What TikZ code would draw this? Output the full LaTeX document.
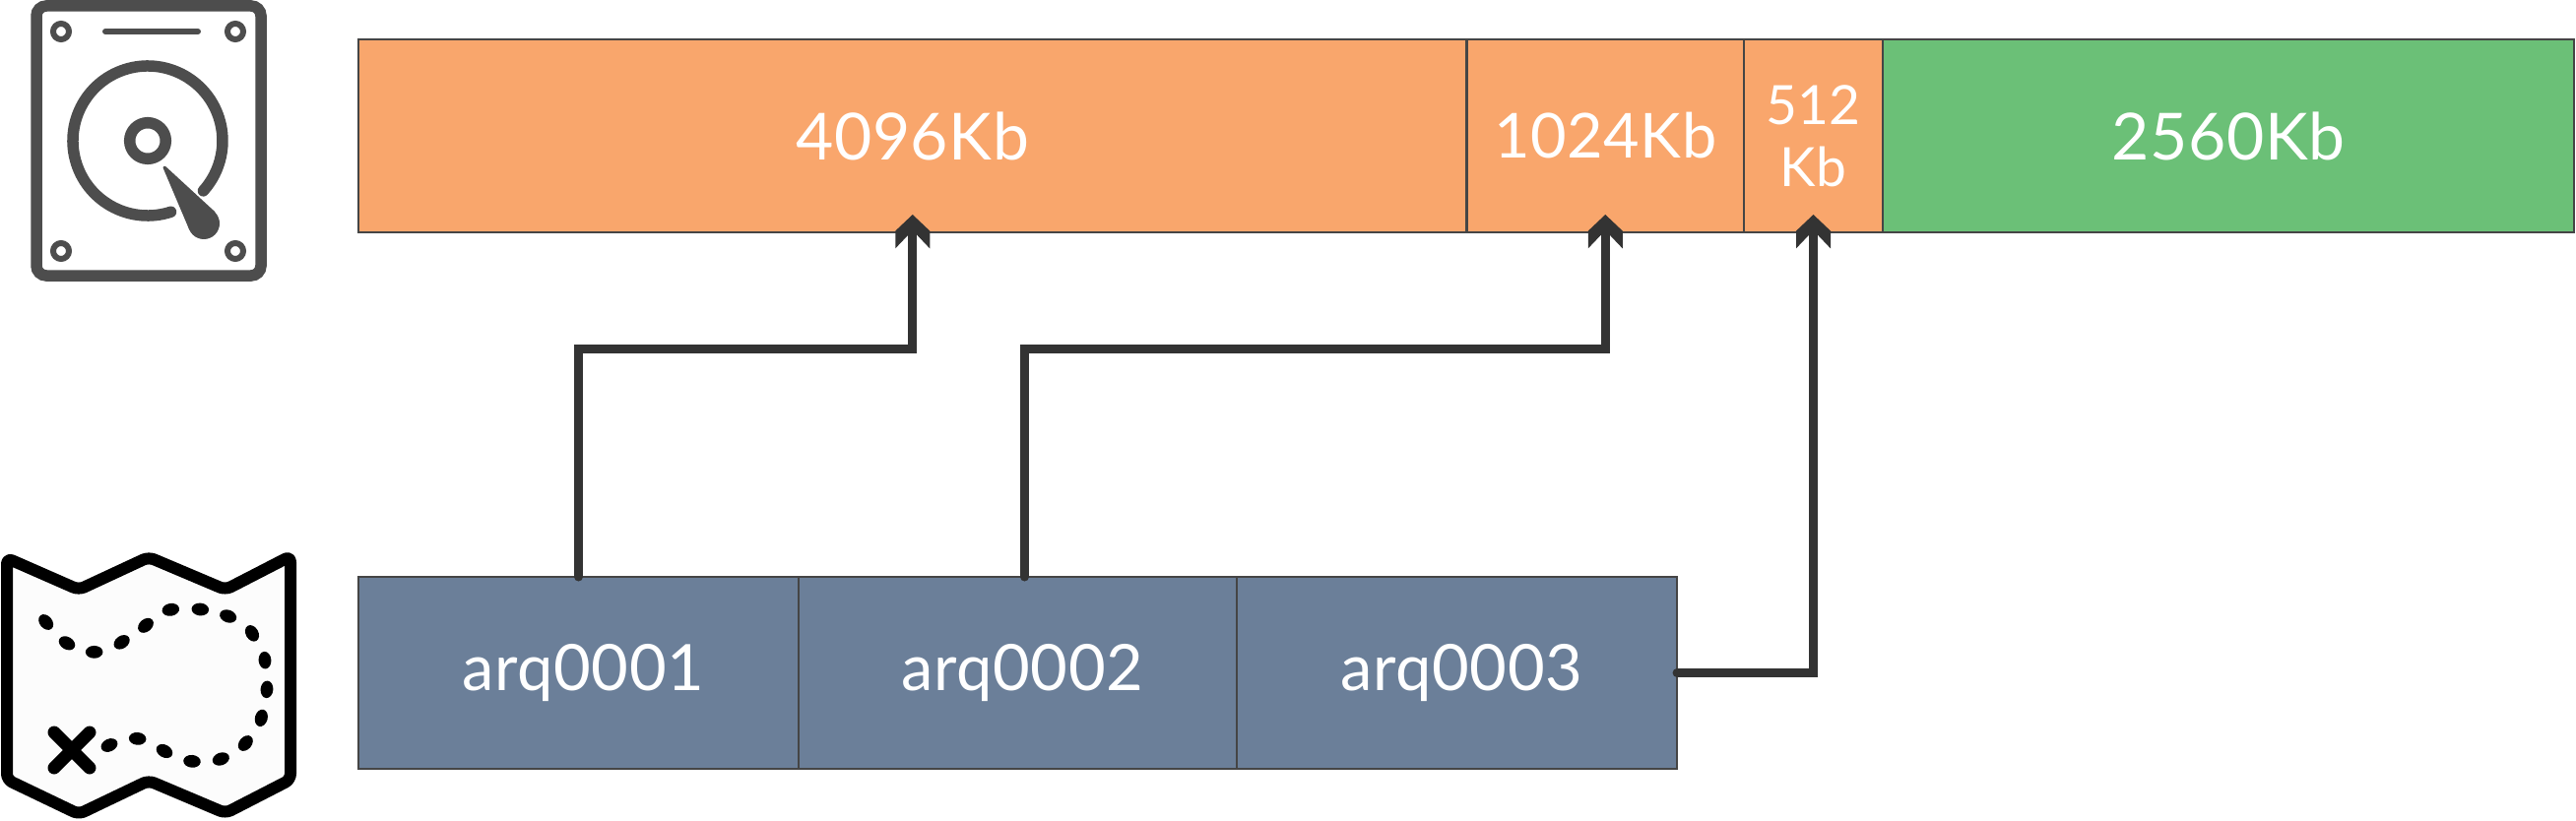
\documentclass[tikz,border=0pt]{standalone}
\usepackage{fontspec}
\setmainfont[LetterSpace=1.0]{Lato}
\usetikzlibrary{arrows.meta}
\definecolor{orangeblk}{HTML}{F9A66C}
\definecolor{greenblk}{HTML}{6BC077}
\definecolor{blueblk}{HTML}{6B7F99}
\definecolor{edgec}{HTML}{454545}
\definecolor{arrowc}{HTML}{333333}
\definecolor{iconc}{HTML}{4D4D4D}
\pgfdeclarearrow{
  name=Chev,
  setup code={
    \pgfarrowssettipend{0pt}
    \pgfarrowssetlineend{-9pt}
    \pgfarrowssetvisualtipend{0pt}
    \pgfarrowssetbackend{-17.2pt}
    \pgfarrowssetvisualbackend{-8pt}
    \pgfarrowshullpoint{0pt}{0pt}
    \pgfarrowshullpoint{-17.2pt}{8.75pt}
    \pgfarrowshullpoint{-17.2pt}{-8.75pt}
  },
  drawing code={
    \pgfsetlinewidth{0pt}
    \pgfpathmoveto{\pgfqpoint{0pt}{0pt}}
    \pgfpathlineto{\pgfqpoint{-8.3pt}{8.75pt}}
    \pgfpathlineto{\pgfqpoint{-17.2pt}{8.75pt}}
    \pgfpathlineto{\pgfqpoint{-8pt}{0pt}}
    \pgfpathlineto{\pgfqpoint{-17.2pt}{-8.75pt}}
    \pgfpathlineto{\pgfqpoint{-8.3pt}{-8.75pt}}
    \pgfpathclose
    \pgfusepathqfill
  }
}
\tikzset{
  blk/.style={draw=edgec,line width=1.25pt,outer sep=0pt,inner sep=0pt,text=white,
    font=\fontsize{33}{33}\selectfont,align=center,anchor=north west},
  disk/.style={blk,minimum height=98pt},
  file/.style={blk,fill=blueblk,minimum height=97.5pt,font=\fontsize{32.5}{32.5}\selectfont},
  link/.style={draw=arrowc,line width=4.5pt,line cap=round,line join=miter,-{Chev[]}},
  hdd/.style={draw=iconc,line width=5.75pt},
  tmap/.style={draw=black,line width=6pt,line join=round,line cap=round,rounded corners=3pt},
}
\begin{document}
\begin{tikzpicture}[x=0.5pt,y=-0.5pt]
\useasboundingbox (0,0) rectangle (2616,834);

% memory / disk blocks
\node[disk,fill=orangeblk,minimum width=562.75pt] (d1) at (364,40) {4096Kb};
\node[disk,fill=orangeblk,minimum width=140.75pt,font=\fontsize{31.5}{31.5}\selectfont] (d2) at (d1.north east) {1024Kb};
\node[disk,fill=orangeblk,minimum width=70.5pt,font=\fontsize{27.5}{31.5}\selectfont] (d3) at (d2.north east) {512\\Kb};
\node[disk,fill=greenblk,minimum width=351pt] (d4) at (d3.north east) {2560Kb};

% file table
\node[file,minimum width=223.5pt] (a1) at (364,586) {\hspace{5pt}arq0001};
\node[file,minimum width=222.5pt] (a2) at (a1.north east) {\hspace{5pt}arq0002};
\node[file,minimum width=223.5pt] (a3) at (a2.north east) {\hspace{5pt}arq0003};

% connectors
\coordinate (bend1) at (a1.north |- 0,354);
\draw[link] (a1.north) -- (bend1) -| ([yshift=9pt]d1.south);
\coordinate (start2) at ([xshift=3.5pt]a2.north);
\coordinate (bend2) at (start2 |- 0,354);
\draw[link] (start2) -- (bend2) -| ([yshift=9pt]d2.south);
\draw[link] (a3.east) -| ([yshift=9pt]d3.south);

% hard disk icon
\draw[hdd,rounded corners=5pt] (37,6) rectangle (265,280);
\foreach \sx/\sy in {62/32,239/32,62/255,239/255}
  \draw[iconc,line width=3pt] (\sx,\sy) circle[radius=4pt];
\draw[iconc,line width=3pt,line cap=round] (107,32) -- (201,32);
\draw[hdd,line cap=round] ([shift={(-72:38pt)}]150,143) arc[start angle=-72,end angle=-402,radius=38pt];
\draw[hdd] (150,143) circle[radius=9.15pt];
\fill[iconc] (207,227) circle[radius=8pt];
\filldraw[iconc,line width=1.5pt,line join=round] (167,170) -- (193.5,232.5) -- (217,216) -- cycle;

% treasure map icon
\draw[tmap,fill=white!99!black] (7,567) -- (80,599) -- (151,566) -- (229,599) -- (295,565)
  -- (295,792) -- (229,826) -- (151,793) -- (80,827) -- (7,792) -- cycle;
\foreach \mx/\my/\mr in {140/276/50,204/340/30,287/367/0,371/337/-35,444/286/-40,520/238/-10,
  610/237/5,695/258/20,768/310/60,807/392/85,813/481/95,796/568/-75,748/645/-50,673/693/-20,
  585/700/5,501/669/30,419/631/5,333/651/-25}
  \fill[black,shift={({\mx/3},{540+\my/3})},rotate=-\mr] (0,0) ellipse[x radius=4.4pt,y radius=3.2pt];
\draw[black,line width=6.5pt,line cap=round] (55,744) -- (91,780);
\draw[black,line width=6.5pt,line cap=round] (55,780) -- (91,744);
\end{tikzpicture}
\end{document}
